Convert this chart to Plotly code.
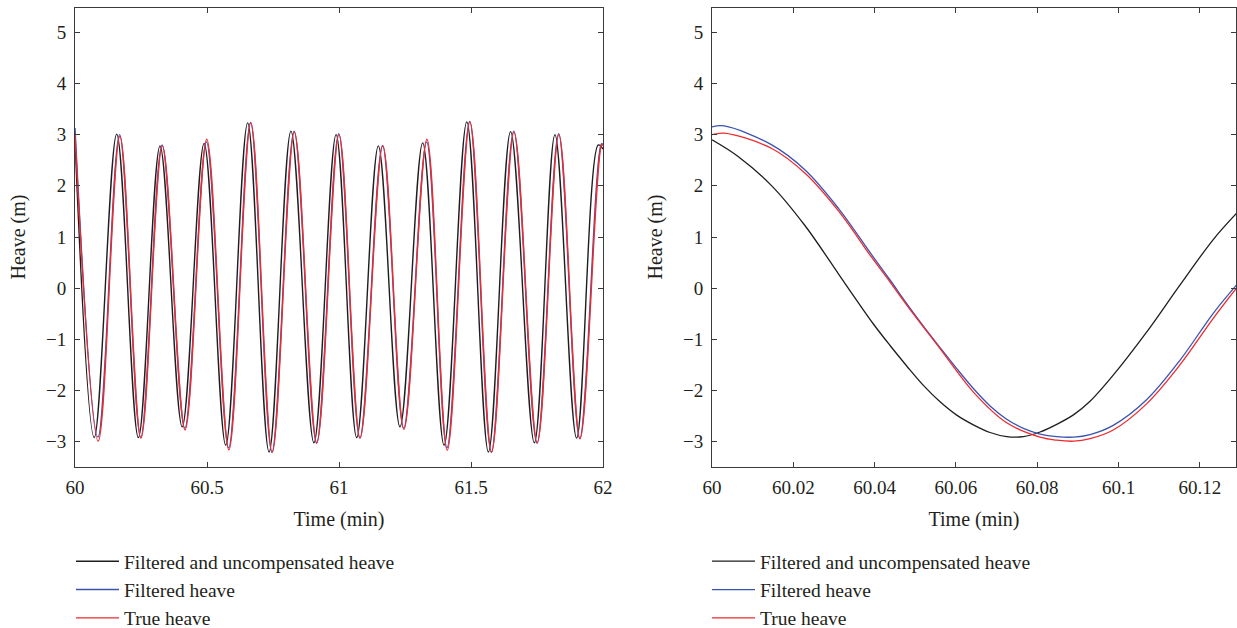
import plotly.graph_objects as go

# ---------------- data ----------------
series_names = ["Filtered and uncompensated heave", "Filtered heave", "True heave"]
series_colors = ["#1e1e1e", "#3a53b0", "#ee2a2f"]

# Left panel: 60-62 min (extrema)
left_time_black = [60.000, 60.073, 60.158, 60.240, 60.322, 60.406, 60.489, 60.571, 60.654, 60.735,
                   60.818, 60.905, 60.989, 61.067, 61.149, 61.231, 61.317, 61.398, 61.484, 61.566,
                   61.650, 61.740, 61.818, 61.900, 61.982, 62.000]
left_heave_black = [2.90, -2.92, 3.01, -2.92, 2.78, -2.71, 2.83, -3.07, 3.23, -3.20,
                    3.07, -3.02, 3.00, -2.92, 2.78, -2.71, 2.84, -3.07, 3.25, -3.20,
                    3.06, -3.02, 3.00, -2.93, 2.80, 2.72]

left_time_blue = [60.000, 60.087, 60.169, 60.249, 60.330, 60.416, 60.498, 60.582, 60.665, 60.746,
                  60.830, 60.915, 60.999, 61.079, 61.165, 61.245, 61.332, 61.409, 61.495, 61.577,
                  61.662, 61.750, 61.832, 61.912, 61.994, 62.000]
left_heave_blue = [3.13, -2.91, 3.00, -2.92, 2.80, -2.74, 2.86, -3.12, 3.24, -3.21,
                   3.07, -3.03, 3.02, -2.93, 2.79, -2.74, 2.86, -3.12, 3.26, -3.21,
                   3.07, -3.03, 3.02, -2.94, 2.82, 2.81]

left_time_red = [60.000, 60.088, 60.170, 60.250, 60.331, 60.417, 60.499, 60.583, 60.666, 60.747,
                 60.831, 60.916, 61.000, 61.080, 61.166, 61.246, 61.333, 61.410, 61.496, 61.578,
                 61.663, 61.751, 61.833, 61.913, 61.995, 62.000]
left_heave_red = [3.02, -2.99, 2.97, -2.93, 2.78, -2.77, 2.91, -3.16, 3.23, -3.20,
                  3.05, -3.02, 3.00, -2.93, 2.78, -2.76, 2.91, -3.17, 3.25, -3.20,
                  3.05, -3.02, 3.00, -2.94, 2.80, 2.79]

# Right panel: zoom 60-60.13 min
right_time_black = [60.0000, 60.0065, 60.0147, 60.0229, 60.0311, 60.0344, 60.0397, 60.0438, 60.0479,
                    60.0520, 60.0561, 60.0602, 60.0643, 60.0684, 60.0725, 60.0766, 60.0807, 60.0848,
                    60.0890, 60.0930, 60.0987, 60.1069, 60.1151, 60.1233, 60.1290]
right_heave_black = [2.90, 2.57, 2.00, 1.22, 0.28, -0.10, -0.70, -1.12, -1.52,
                     -1.90, -2.22, -2.48, -2.67, -2.82, -2.90, -2.90, -2.81, -2.66,
                     -2.47, -2.21, -1.70, -0.86, 0.06, 0.95, 1.46]

right_time_blue = [60.0000, 60.0030, 60.0147, 60.0229, 60.0311, 60.0393, 60.0438, 60.0479, 60.0520,
                   60.0561, 60.0602, 60.0643, 60.0684, 60.0725, 60.0766, 60.0807, 60.0848, 60.0890,
                   60.0930, 60.0987, 60.1069, 60.1151, 60.1233, 60.1290]
right_heave_blue = [3.15, 3.17, 2.80, 2.31, 1.56, 0.65, 0.16, -0.30, -0.74,
                    -1.16, -1.57, -1.96, -2.30, -2.56, -2.74, -2.85, -2.90, -2.91,
                    -2.86, -2.68, -2.18, -1.41, -0.49, 0.06]

right_time_red = [60.0000, 60.0030, 60.0147, 60.0229, 60.0311, 60.0393, 60.0438, 60.0479, 60.0561,
                  60.0643, 60.0725, 60.0807, 60.0848, 60.0890, 60.0930, 60.0987, 60.1069, 60.1151,
                  60.1233, 60.1290]
right_heave_red = [3.00, 3.03, 2.73, 2.245, 1.51, 0.60, 0.12, -0.33, -1.18,
                   -2.03, -2.63, -2.91, -2.97, -2.99, -2.94, -2.77, -2.26, -1.50,
                   -0.59, 0.00]

left_xticks = [60, 60.5, 61, 61.5, 62]
left_xticklabels = ["60", "60.5", "61", "61.5", "62"]
right_xticks = [60, 60.02, 60.04, 60.06, 60.08, 60.1, 60.12]
right_xticklabels = ["60", "60.02", "60.04", "60.06", "60.08", "60.1", "60.12"]
yticks = [-3, -2, -1, 0, 1, 2, 3, 4, 5]

x_title = "Time (min)"
y_title = "Heave (m)"

# ---------------- figure ----------------
W, H = 1237, 628
FONT = "Liberation Serif, Times New Roman, serif"
TXT = "#231f20"

fig = go.Figure()

left = [(left_time_black, left_heave_black), (left_time_blue, left_heave_blue), (left_time_red, left_heave_red)]
right = [(right_time_black, right_heave_black), (right_time_blue, right_heave_blue), (right_time_red, right_heave_red)]

for i, (t, h) in enumerate(left):
    fig.add_trace(go.Scatter(x=t, y=h, mode="lines", name=series_names[i],
                             line=dict(color=series_colors[i], width=1.4, shape="spline", smoothing=1),
                             xaxis="x", yaxis="y", legend="legend"))
for i, (t, h) in enumerate(right):
    fig.add_trace(go.Scatter(x=t, y=h, mode="lines", name=series_names[i],
                             line=dict(color=series_colors[i], width=1.3, shape="spline", smoothing=1),
                             xaxis="x2", yaxis="y2", legend="legend2"))

axis_common = dict(showgrid=False, zeroline=False, showline=True, linecolor="#3a3a3a", linewidth=1,
                   mirror="ticks", ticks="inside", ticklen=5, tickcolor="#3a3a3a", tickwidth=1,
                   tickfont=dict(family=FONT, size=19, color=TXT))

yrange = [-3.494, 5.475]
title_font = dict(family=FONT, size=20, color=TXT)
legend_common = dict(xref="container", yref="container", xanchor="left", yanchor="top",
                     bgcolor="rgba(0,0,0,0)", font=dict(family=FONT, size=19.5, color=TXT),
                     itemwidth=43, tracegroupgap=0)

# y-axis titles as rotated text
y_titles = [
    dict(text=y_title, x=18 / W, y=0.5, xref="paper", yref="paper", textangle=-90, showarrow=False,
         xanchor="center", yanchor="middle", font=title_font),
    dict(text=y_title, x=655 / W, y=0.5, xref="paper", yref="paper", textangle=-90, showarrow=False,
         xanchor="center", yanchor="middle", font=title_font),
]

fig.update_layout(
    width=W, height=H,
    margin=dict(l=0, r=0, t=8, b=161, autoexpand=False),
    paper_bgcolor="white", plot_bgcolor="white",
    font=dict(family=FONT, color=TXT, size=19),
    xaxis=dict(domain=[75 / W, 603 / W], range=[60, 62], tickvals=left_xticks, ticktext=left_xticklabels,
               title=dict(text=x_title, font=title_font, standoff=15),
               anchor="y", ticklabelstandoff=3, **axis_common),
    yaxis=dict(domain=[0, 1], range=yrange, tickvals=yticks, anchor="x", ticklabelstandoff=4, **axis_common),
    xaxis2=dict(domain=[712 / W, 1236 / W], range=[60, 60.1289], tickvals=right_xticks,
                ticktext=right_xticklabels,
                title=dict(text=x_title, font=title_font, standoff=15),
                anchor="y2", ticklabelstandoff=3, **axis_common),
    yaxis2=dict(domain=[0, 1], range=yrange, tickvals=yticks, anchor="x2", ticklabelstandoff=4, **axis_common),
    legend=dict(x=71 / W, y=1 - 542 / H, **legend_common),
    legend2=dict(x=707 / W, y=1 - 542 / H, **legend_common),
    annotations=y_titles,
    showlegend=True,
)

# remove the default page margin so the figure sits at the window's top-left corner
fig.write_html("out.html", config={"displayModeBar": False},
               post_script="document.body.style.margin='0';")
